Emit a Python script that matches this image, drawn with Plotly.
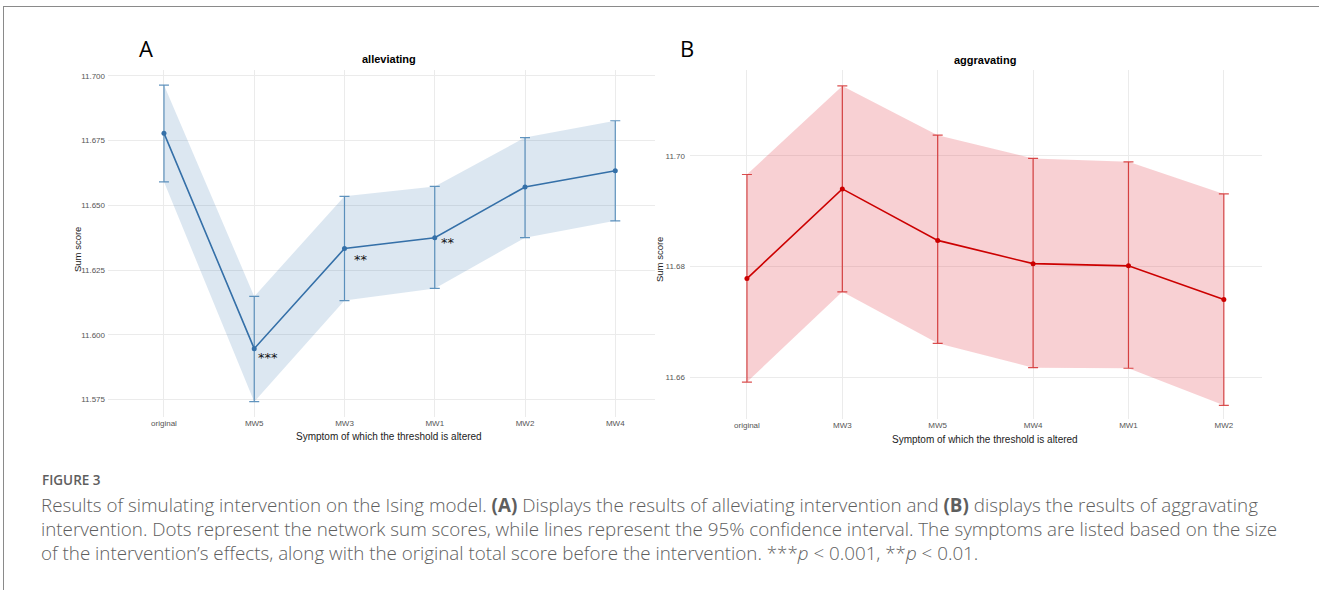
import plotly.graph_objects as go

W, H = 1319, 590

# ---- data ----
cats_a = ["original", "MW5", "MW3", "MW1", "MW2", "MW4"]
mean_a = [11.6779, 11.5946, 11.6333, 11.6375, 11.6571, 11.6634]
upper_a = [11.6965, 11.6148, 11.6535, 11.6573, 11.6762, 11.6827]
lower_a = [11.6591, 11.5741, 11.6132, 11.6179, 11.6375, 11.6440]
sig_a = ["", "***", "**", "**", "", ""]

cats_b = ["original", "MW3", "MW5", "MW4", "MW1", "MW2"]
mean_b = [11.6778, 11.6940, 11.6847, 11.6805, 11.6801, 11.6740]
upper_b = [11.6966, 11.7126, 11.7037, 11.6995, 11.6989, 11.6931]
lower_b = [11.6591, 11.6754, 11.6661, 11.6617, 11.6616, 11.6549]

ticks_a = [11.575, 11.600, 11.625, 11.650, 11.675, 11.700]
ticks_b = [11.66, 11.68, 11.70]

# label offsets (style, pixels) for the significance stars
star_dx = [0, 14, 17, 13, 0, 0]
star_dy = [0, -9, -11, -5, 0, 0]

def px_x(p):
    return p / W

def px_y(p):
    return 1 - p / H

fig = go.Figure()

def add_panel(cats, mean, upper, lower, xa, ya, line_col, fill_col, err_col):
    fig.add_trace(go.Scatter(x=cats, y=upper, mode="lines", line=dict(width=0),
                             hoverinfo="skip", showlegend=False, xaxis=xa, yaxis=ya))
    fig.add_trace(go.Scatter(x=cats, y=lower, mode="lines", line=dict(width=0),
                             fill="tonexty", fillcolor=fill_col,
                             hoverinfo="skip", showlegend=False, xaxis=xa, yaxis=ya))
    fig.add_trace(go.Scatter(
        x=cats, y=mean, mode="lines+markers",
        line=dict(color=line_col, width=1.6),
        marker=dict(color=line_col, size=5),
        error_y=dict(type="data", symmetric=False,
                     array=[u - m for u, m in zip(upper, mean)],
                     arrayminus=[m - l for m, l in zip(mean, lower)],
                     color=err_col, thickness=1.2, width=5),
        showlegend=False, xaxis=xa, yaxis=ya))

add_panel(cats_a, mean_a, upper_a, lower_a, "x", "y",
          "#3570a8", "rgba(70,130,180,0.19)", "rgba(70,130,180,0.85)")
add_panel(cats_b, mean_b, upper_b, lower_b, "x2", "y2",
          "#cc0000", "rgba(225,60,70,0.24)", "rgba(205,20,20,0.75)")

# significance stars
for c, m, s, dx, dy in zip(cats_a, mean_a, sig_a, star_dx, star_dy):
    if s:
        fig.add_annotation(x=c, y=m, xref="x", yref="y", text=s, showarrow=False,
                           xshift=dx, yshift=dy,
                           font=dict(family="DejaVu Sans", size=13, color="#111111"))

tick_font = dict(family="Liberation Sans", size=8, color="#555555")
grid = "#ebebeb"

# Panel A plot area: x 108..655, y 69.5..417.4
ax_a = dict(domain=[px_x(108), px_x(655)], range=[-0.62, 5.44],
            showgrid=True, gridcolor=grid, gridwidth=1, zeroline=False,
            showline=False, ticks="", tickfont=tick_font, type="category")
ay_a = dict(domain=[px_y(417.4), px_y(69.5)], range=[11.56803, 11.70251],
            tickvals=ticks_a, ticktext=["%.3f" % t for t in ticks_a],
            showgrid=True, gridcolor=grid, zeroline=False, showline=False,
            ticks="", tickfont=tick_font, ticklabelstandoff=2)
# Panel B plot area: x 690..1262, y 69.9..419
ax_b = dict(domain=[px_x(690), px_x(1262)], range=[-0.597, 5.40],
            showgrid=True, gridcolor=grid, gridwidth=1, zeroline=False,
            showline=False, ticks="", tickfont=tick_font, type="category",
            anchor="y2")
ay_b = dict(domain=[px_y(419), px_y(69.9)], range=[11.65243, 11.71550],
            tickvals=ticks_b, ticktext=["%.2f" % t for t in ticks_b],
            showgrid=True, gridcolor=grid, zeroline=False, showline=False,
            ticks="", tickfont=tick_font, ticklabelstandoff=4, anchor="x2")

fig.update_layout(
    width=W, height=H, margin=dict(l=0, r=0, t=0, b=0),
    paper_bgcolor="white", plot_bgcolor="white",
    xaxis=ax_a, yaxis=ay_a, xaxis2=ax_b, yaxis2=ay_b,
    showlegend=False,
)

def ann(text, x, y, size, color="#000000", family="Liberation Sans", angle=0,
        xanchor="center", yanchor="middle", weight=None):
    f = dict(family=family, size=size, color=color)
    if weight:
        f["weight"] = weight
    fig.add_annotation(text=text, x=px_x(x), y=px_y(y), xref="paper", yref="paper",
                       showarrow=False, textangle=angle, xanchor=xanchor, yanchor=yanchor,
                       font=f)

# panel labels and titles
ann("A", 146, 48, 22, family="Open Sans")
ann("B", 687, 48, 22, family="Open Sans")
ann("<b>alleviating</b>", 389, 59, 11)
ann("<b>aggravating</b>", 985, 60, 11)
ann("Sum score", 77, 250, 9.5, color="#222222", angle=-90)
ann("Sum score", 660, 260, 9.5, color="#222222", angle=-90)
ann("Symptom of which the threshold is altered", 389, 436, 10, color="#222222")
ann("Symptom of which the threshold is altered", 985, 439, 10, color="#222222")

# caption
cap_col = "#5e5e5e"
ann("FIGURE 3", 40, 480, 13.5, color=cap_col, family="Open Sans", xanchor="left", weight=600)
cap_lines = [
    "Results of simulating intervention on the Ising model. <b>(A)</b> Displays the results of alleviating intervention and <b>(B)</b> displays the results of aggravating",
    "intervention. Dots represent the network sum scores, while lines represent the 95% confidence interval. The symptoms are listed based on the size",
    "of the intervention\u2019s effects, along with the original total score before the intervention. ***<i>p</i> < 0.001, **<i>p</i> < 0.01.",
]
for i, line in enumerate(cap_lines):
    ann(line, 39, 505 + 24 * i, 18.8, color=cap_col, family="Open Sans", xanchor="left", weight=300)

# page border lines
fig.add_shape(type="line", xref="paper", yref="paper", x0=px_x(3), x1=1, y0=px_y(6.5), y1=px_y(6.5),
              line=dict(color="#8a8a8a", width=1))
fig.add_shape(type="line", xref="paper", yref="paper", x0=px_x(3.5), x1=px_x(3.5), y0=px_y(6.5), y1=0,
              line=dict(color="#8a8a8a", width=1))

fig.write_html("out.html", config={"displayModeBar": False},
               post_script="document.body.style.margin='0';document.body.style.overflow='hidden';")
